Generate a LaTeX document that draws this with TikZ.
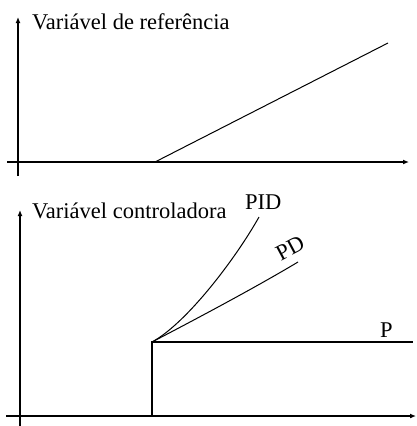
\documentclass[tikz,border=0pt]{standalone}
\usepackage{fontspec}
\setmainfont{Liberation Serif}
\usetikzlibrary{arrows.meta}
\begin{document}
\begin{tikzpicture}[x=1pt,y=-1pt,
  axis/.style={line width=1.2pt,-{Latex[length=6pt,width=5pt]}},
  curve/.style={line width=1pt},
  lbl/.style={inner sep=0pt,font=\fontsize{22.5}{22.5}\selectfont}]
\useasboundingbox (0,0) rectangle (416,426);
% top chart
\coordinate (tx0) at (7,162);
\coordinate (tx1) at (409,162);
\coordinate (ty0) at (18,176);
\coordinate (ty1) at (18,17);
\draw[axis] (tx0) -- (tx1);
\draw[axis] (ty0) -- (ty1);
\coordinate (r0) at (155,162);
\coordinate (r1) at (388,43);
\draw[curve] (r0) -- (r1);
\node[lbl,anchor=base west] (ref) at (32,29) {Variável de referência};
% bottom chart
\coordinate (bx0) at (6,416);
\coordinate (bx1) at (416,416);
\coordinate (by0) at (20,426);
\coordinate (by1) at (20,210);
\draw[axis] (bx0) -- (bx1);
\draw[axis] (by0) -- (by1);
\coordinate (s0) at (152,416);
\coordinate (s1) at (152,342);
\coordinate (p1) at (413,342);
\draw[line width=1.2pt] (s0) -- (s1) -- (p1);
\coordinate (pid) at (259,217);
\coordinate (pd) at (298,262);
\draw[curve] (s1) .. controls (187,323) and (236,258) .. (pid);
\draw[curve] (s1) .. controls (200,317) and (258,286) .. (pd);
\node[lbl,anchor=base west] (ctl) at (32,218) {Variável controladora};
\node[lbl,anchor=base west] (pidl) at (245,209) {PID};
\node[lbl,rotate=28] (pdl) at (290,248) {PD};
\node[lbl,anchor=base west] (pl) at (380,337) {P};
\end{tikzpicture}
\end{document}
